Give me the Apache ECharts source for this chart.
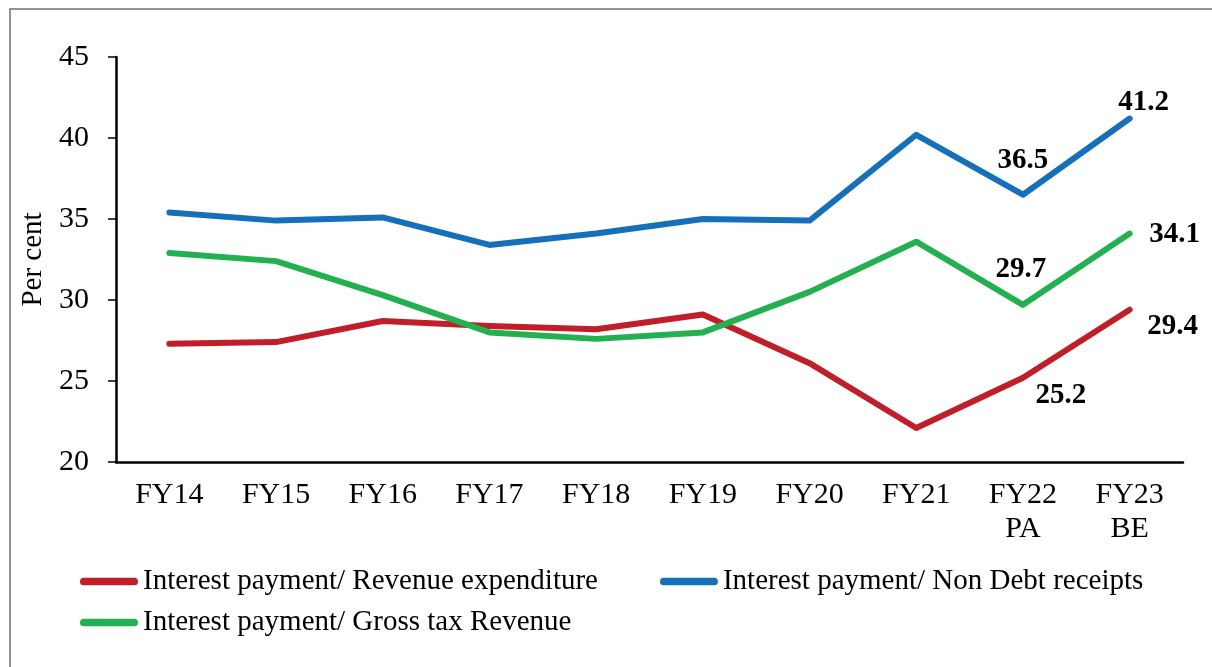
<!DOCTYPE html>
<html>
<head>
<meta charset="utf-8">
<script src="https://cdn.jsdelivr.net/npm/echarts@6/dist/echarts.min.js"></script>
<style>
  html, body { margin: 0; padding: 0; background: #fff; }
  #main { width: 1212px; height: 667px; }
</style>
</head>
<body>
<div id="main"></div>
<script>
// categories and series values (per cent)
const years = ['FY14', 'FY15', 'FY16', 'FY17', 'FY18', 'FY19', 'FY20', 'FY21', 'FY22\nPA', 'FY23\nBE'];
const revExp = [27.3, 27.4, 28.7, 28.4, 28.2, 29.1, 26.1, 22.1, 25.2, 29.4];
const nonDebt = [35.4, 34.9, 35.1, 33.4, 34.1, 35.0, 34.9, 40.2, 36.5, 41.2];
const grossTax = [32.9, 32.4, 30.3, 28.0, 27.6, 28.0, 30.5, 33.6, 29.7, 34.1];
const yTicks = { min: 20, max: 45, step: 5 };

const names = [
  'Interest payment/ Revenue expenditure',
  'Interest payment/ Non Debt receipts',
  'Interest payment/ Gross tax Revenue'
];
const colors = ['#C01F29', '#1670B9', '#22B050'];

const font = '"Liberation Serif", "Times New Roman", serif';

// label offsets for the last two points of each line
const labelOffsets = [
  { 8: [38, 18], 9: [43, 17] },
  { 8: [0, -34], 9: [14, -16] },
  { 8: [-2, -35], 9: [45, 1] }
];

function withLabels(values, offs) {
  return values.map((v, i) => {
    if (!offs[i]) return v;
    return {
      value: v,
      label: {
        show: true,
        position: 'inside',
        offset: offs[i],
        formatter: (p) => p.value.toFixed(1),
        fontFamily: font,
        fontWeight: 'bold',
        fontSize: 29,
        color: '#000'
      }
    };
  });
}

const capsule = 'path://M4,0 H56 A4,4 0 0 1 56,8 H4 A4,4 0 0 1 4,0 Z';

const chart = echarts.init(document.getElementById('main'));
chart.setOption({
  animation: false,
  color: colors,
  graphic: [{
    type: 'rect',
    shape: { x: 10, y: 9, width: 1230, height: 700 },
    style: { fill: 'none', stroke: '#707070', lineWidth: 1.5 },
    silent: true
  }],
  grid: { left: 116, right: 29, top: 57, bottom: 205 },
  legend: [{
    data: [names[0], names[1]],
    left: 75, top: 562,
    itemWidth: 58, itemHeight: 8, itemGap: 62,
    icon: capsule,
    textStyle: { fontFamily: font, fontSize: 29, color: '#000' }
  }, {
    data: [names[2]],
    left: 75, top: 603,
    itemWidth: 58, itemHeight: 8,
    icon: capsule,
    textStyle: { fontFamily: font, fontSize: 29, color: '#000' }
  }],
  xAxis: {
    type: 'category',
    data: years,
    axisLine: { lineStyle: { color: '#000', width: 2.5 } },
    axisTick: { length: 8, lineStyle: { color: '#000', width: 1.5 } },
    axisLabel: {
      margin: 16, fontFamily: font, fontSize: 30, lineHeight: 34, color: '#000'
    }
  },
  yAxis: {
    type: 'value',
    min: yTicks.min, max: yTicks.max, interval: yTicks.step,
    name: 'Per cent',
    nameLocation: 'middle',
    nameGap: 68,
    nameTextStyle: { fontFamily: font, fontSize: 29, color: '#000' },
    axisLine: { show: true, lineStyle: { color: '#000', width: 2.5 } },
    axisTick: { show: true, length: 8, lineStyle: { color: '#000', width: 1.5 } },
    axisLabel: { margin: 27, fontFamily: font, fontSize: 30, color: '#000' },
    splitLine: { show: false }
  },
  series: [revExp, nonDebt, grossTax].map((vals, k) => ({
    name: names[k],
    type: 'line',
    data: withLabels(vals, labelOffsets[k]),
    symbol: 'circle',
    symbolSize: 1,
    showSymbol: true,
    lineStyle: { width: 6, color: colors[k], cap: 'round', join: 'round' },
    itemStyle: { color: colors[k] }
  }))
});
</script>
</body>
</html>
